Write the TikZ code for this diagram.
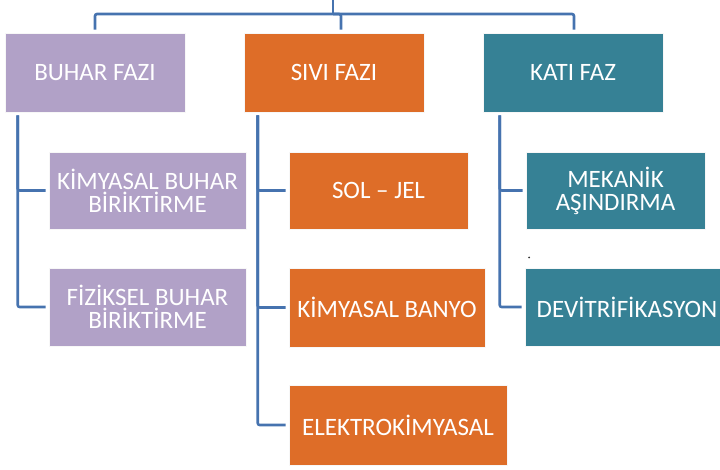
\documentclass[tikz,border=0pt]{standalone}
\usepackage{fontspec}
\setmainfont{Carlito}
\definecolor{vapour}{RGB}{177,161,199}
\definecolor{liquid}{RGB}{222,109,40}
\definecolor{solid}{RGB}{54,129,149}
\definecolor{linkblue}{RGB}{70,115,175}
\tikzset{
  box/.style={rectangle, draw=white!70!black!10, line width=0.6pt, text=white,
    align=center, inner sep=0pt, font=\fontsize{25}{23}\selectfont},
  vapourbox/.style={box, fill=vapour},
  liquidbox/.style={box, fill=liquid},
  solidbox/.style={box, fill=solid},
  conn/.style={draw=linkblue, line width=2.6pt, rounded corners=2pt}
}
\begin{document}
\begin{tikzpicture}[x=1pt, y=-1pt]
\useasboundingbox (0,0) rectangle (720,470);

% main categories
\node[vapourbox, minimum width=180pt, minimum height=79pt] (buhar) at (95,72.5) {BUHAR FAZI};
\node[liquidbox, minimum width=180pt, minimum height=79pt] (sivi) at (334,72.5) {SIVI FAZI};
\node[solidbox, minimum width=180pt, minimum height=79pt] (kati) at (573,72.5) {KATI FAZ};

% vapour phase methods
\node[vapourbox, minimum width=197pt, minimum height=77pt] (kbb) at (147.5,190.5) {KİMYASAL BUHAR\\BİRİKTİRME};
\node[vapourbox, minimum width=197pt, minimum height=78pt] (fbb) at (147.5,307) {FİZİKSEL BUHAR\\BİRİKTİRME};

% liquid phase methods
\node[liquidbox, minimum width=179pt, minimum height=77pt] (soljel) at (378.5,190.5) {SOL – JEL};
\node[liquidbox, minimum width=196pt, minimum height=79pt] (banyo) at (387,307.5) {KİMYASAL BANYO};
\node[liquidbox, minimum width=218pt, minimum height=80pt] (elektro) at (398,425) {ELEKTROKİMYASAL};

% solid phase methods
\node[solidbox, minimum width=179pt, minimum height=77pt] (mekanik) at (615.5,190.5) {MEKANİK\\AŞINDIRMA};
\node[solidbox, minimum width=204pt, minimum height=78pt] (devit) at (627,307) {DEVİTRİFİKASYON};

% stray dot
\fill[black!80] (529,257.5) circle (1pt);

% top bus
\coordinate (root) at (333,0);
\coordinate (bus) at (333,14);
\draw[conn] (root) -- (bus);
\draw[conn] ([yshift=3pt]buhar.north) |- (bus) -| ([xshift=7pt,yshift=3pt]sivi.north);
\draw[conn] (bus) -| ([xshift=1pt,yshift=3pt]kati.north);

% branches
\draw[conn] ([xshift=13pt,yshift=-3pt]buhar.south west) |- ([xshift=-3pt]kbb.west);
\draw[conn] ([xshift=13pt,yshift=-3pt]buhar.south west) |- ([xshift=-3pt]fbb.west);

\draw[conn] ([xshift=14pt,yshift=-3pt]sivi.south west) |- ([xshift=-3pt]soljel.west);
\draw[conn] ([xshift=14pt,yshift=-3pt]sivi.south west) |- ([xshift=-3pt]banyo.west);
\draw[conn] ([xshift=14pt,yshift=-3pt]sivi.south west) |- ([xshift=-3pt]elektro.west);

\draw[conn] ([xshift=17pt,yshift=-3pt]kati.south west) |- ([xshift=-3pt]mekanik.west);
\draw[conn] ([xshift=17pt,yshift=-3pt]kati.south west) |- ([xshift=-3pt]devit.west);
\end{tikzpicture}
\end{document}
